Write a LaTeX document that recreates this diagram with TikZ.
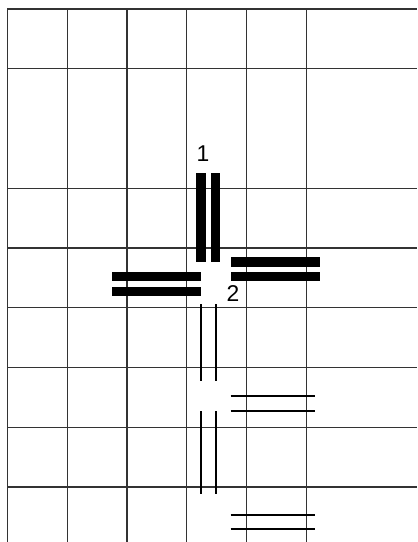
\documentclass[tikz,border=0pt]{standalone}
\usepackage{fontspec}
\setmainfont{Liberation Sans}
\usepackage{tikz}
\usepackage{xcolor}
\definecolor{gridgray}{HTML}{333333}

\begin{document}
\begin{tikzpicture}[x=0.02cm, y=-0.02cm,
            gridline/.style={draw=gridgray, line width=0.6pt},
            thickbar/.style={fill=black, draw=none},
            thinbar/.style={draw=black, line width=1.2pt},
            lbl/.style={inner sep=0pt, font=\fontsize{13}{15}\selectfont}]
            \useasboundingbox (0,0) rectangle (417,542);
            % grid
            \foreach \gx in {7.5,67.25,127,186.75,246.5,306.25}
                \draw[gridline] (\gx,9) -- (\gx,542);
            \foreach \gy in {9,68.75,188.25,248,307.75,367.5,427.25,487}
                \draw[gridline] (7.5,\gy) -- (417,\gy);
            % thick pairs
            \fill[thickbar] (196.3,172.7) rectangle (205.7,261.7);
            \fill[thickbar] (211,172.7) rectangle (220.3,261.7);
            \fill[thickbar] (111.7,272) rectangle (200.7,281.3);
            \fill[thickbar] (111.7,286.7) rectangle (200.7,296.3);
            \fill[thickbar] (230.7,257.3) rectangle (320.3,266.7);
            \fill[thickbar] (230.7,272) rectangle (320.3,281.3);
            % thin pairs
            \draw[thinbar] (200.7,304.3) -- (200.7,380.7);
            \draw[thinbar] (215.7,304.3) -- (215.7,380.7);
            \draw[thinbar] (230.7,396) -- (315.3,396);
            \draw[thinbar] (230.7,410.7) -- (315.3,410.7);
            \draw[thinbar] (200.7,411) -- (200.7,494.3);
            \draw[thinbar] (215.7,411) -- (215.7,494.3);
            \draw[thinbar] (230.7,515) -- (315.3,515);
            \draw[thinbar] (230.7,529.3) -- (315.3,529.3);
            % labels
            \node[lbl] (one) at (203,153.5) {1};
            \node[lbl] (two) at (233,293.7) {2};
        \end{tikzpicture}
\end{document}
